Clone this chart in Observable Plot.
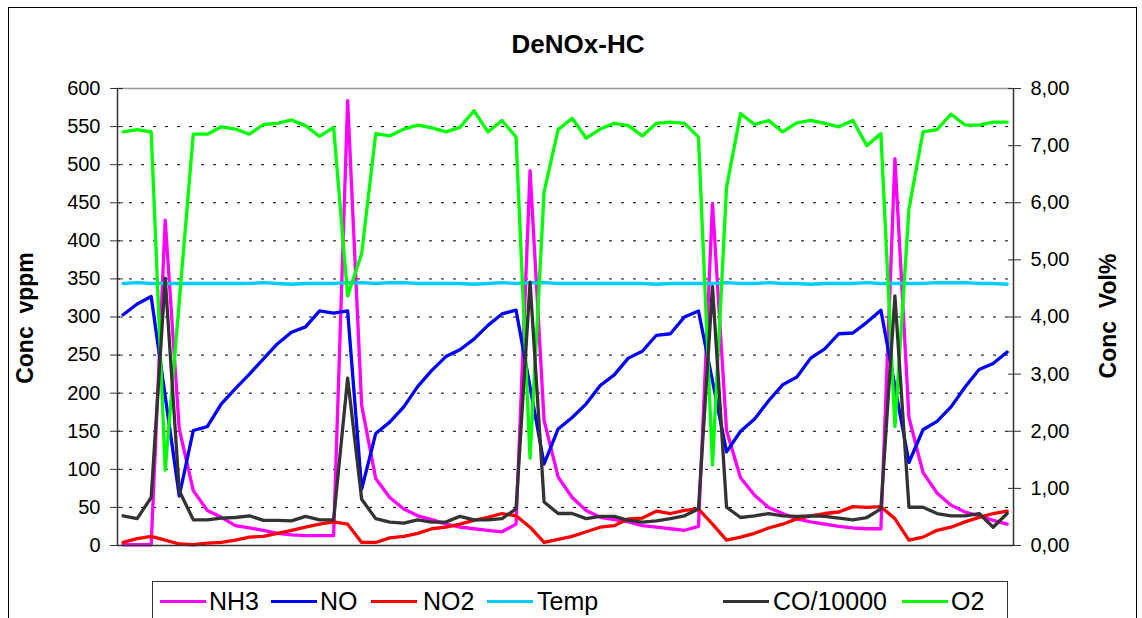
<!DOCTYPE html>
<html><head><meta charset="utf-8">
<script src="https://cdn.jsdelivr.net/npm/d3@7"></script>
<script src="https://cdn.jsdelivr.net/npm/@observablehq/plot@0.6"></script>
<style>
body{margin:0;background:#fff;font-family:"Liberation Sans",Arial,sans-serif;}
#wrap{position:relative;width:1142px;height:618px;overflow:hidden;background:#fff;}
#chart{position:absolute;left:0;top:0;}
.abs{position:absolute;white-space:pre;color:#000;}
#title{left:578px;top:31px;transform:translateX(-50%);font-weight:bold;font-size:26px;line-height:26px;}
.ytitle{font-weight:bold;font-size:23px;line-height:23px;transform:translate(-50%,-50%) rotate(-90deg);}
#border{position:absolute;left:8px;top:7px;width:1129px;height:700px;border:1.5px solid #000;box-sizing:border-box;}
#legend{position:absolute;left:152px;top:581px;width:856px;height:80px;border:1.5px solid #333;box-sizing:border-box;}
.sw{position:absolute;height:3px;top:600px;}
.lt{position:absolute;top:589px;font-size:25px;line-height:25px;white-space:pre;}
</style></head><body><div id="wrap"><div id="chart"></div></div>
<script>
const title = "DeNOx-HC";
const leftTitle = "Conc  vppm";
const rightTitle = "Conc  Vol%";
const seriesNames = ["NH3", "NO", "NO2", "Temp", "CO/10000", "O2"];
const seriesColors = ["#ff00ff", "#0000ff", "#ff0000", "#00ccff", "#333333", "#00ff00"];
const onRightAxis = [false, false, false, false, true, true];
const leftTicks = [0, 50, 100, 150, 200, 250, 300, 350, 400, 450, 500, 550, 600];
const rightTicks = [0, 1, 2, 3, 4, 5, 6, 7, 8];

const NH3 = [1,1,1,427,153,72,46,37,26,23,20,16,14,13,13,13,
  584,184,88,63,48,39,34,28,24,22,20,18,28,492,164,90,
  63,46,37,34,31,26,24,22,20,25,449,151,89,66,50,42,
  35,31,28,25,23,22,22,508,168,96,69,53,44,39,33,28];
const NO = [303,317,327,196,65,151,156,186,206,225,245,265,280,287,308,305,
  308,74,147,162,182,209,230,248,257,271,289,304,309,208,107,153,
  168,186,210,224,246,255,276,278,300,308,216,123,150,166,190,211,
  221,246,258,278,279,293,309,209,109,152,163,182,208,231,239,254];
const NO2 = [4,9,12,7,2,1,3,4,7,11,12,16,20,24,28,31,
  28,4,4,10,12,16,22,24,28,33,37,42,39,24,4,8,
  12,18,24,26,35,36,45,42,46,48,28,7,11,16,23,28,
  35,39,42,44,51,50,51,35,7,11,20,24,31,37,42,45];
const Temp = [344,345,344,344,344,344,344,344,344,344,345,344,343,344,344,344,
  345,345,344,345,345,344,344,344,344,343,344,345,344,345,345,344,
  344,344,344,344,344,344,343,344,344,344,344,345,344,344,345,344,
  344,343,344,344,344,345,344,344,344,344,345,345,345,344,344,343];
const CO = [0.52,0.47,0.84,4.68,0.96,0.45,0.45,0.48,0.49,0.52,0.44,0.44,0.43,0.51,0.45,0.45,
  2.93,0.81,0.47,0.41,0.39,0.45,0.41,0.41,0.51,0.45,0.45,0.47,0.64,4.61,0.76,0.56,
  0.56,0.47,0.51,0.51,0.44,0.41,0.43,0.47,0.52,0.64,4.53,0.67,0.49,0.52,0.56,0.52,
  0.51,0.52,0.51,0.48,0.45,0.49,0.64,4.37,0.67,0.67,0.56,0.52,0.52,0.56,0.32,0.56];
const O2 = [7.24,7.28,7.24,1.32,4.27,7.20,7.20,7.33,7.29,7.20,7.37,7.39,7.45,7.35,7.16,7.32,
  4.37,5.11,7.21,7.17,7.29,7.36,7.31,7.24,7.32,7.61,7.24,7.44,7.15,1.53,6.19,7.28,
  7.48,7.13,7.29,7.39,7.35,7.17,7.39,7.41,7.39,7.15,1.41,6.27,7.56,7.37,7.44,7.24,
  7.40,7.44,7.39,7.33,7.44,7.00,7.21,2.08,5.89,7.24,7.28,7.55,7.36,7.36,7.41,7.41];
const seriesValues = [NH3, NO, NO2, Temp, CO, O2];

const VOL = 600 / 8; // right axis (Vol%) to left axis (vppm) scale factor
const drawOrder = [0, 1, 2, 3, 5, 4];

const lineMarks = drawOrder.map(k => {
  const rows = seriesValues[k].map((v, i) => ({i, v: onRightAxis[k] ? v * VOL : v}));
  return Plot.line(rows, {x: "i", y: "v", stroke: seriesColors[k], strokeWidth: 3.3, strokeLinejoin: "round"});
});

const xDomain = [-0.4, 63.45];
const chart = Plot.plot({
  width: 1142, height: 560,
  marginTop: 88, marginBottom: 15, marginLeft: 117, marginRight: 129,
  style: {fontFamily: "'Liberation Sans', Arial, sans-serif", fontSize: "20px", color: "#000", background: "transparent"},
  x: {domain: xDomain, axis: null},
  y: {domain: [0, 600], label: null},
  marks: [
    Plot.ruleY(leftTicks.filter(t => t > 0 && t < 600), {stroke: "#000", strokeDasharray: "3,9", strokeWidth: 1}),
    Plot.ruleY([600], {stroke: "#999", strokeWidth: 1.5}),
    ...lineMarks,
    Plot.ruleY([0], {stroke: "#333", strokeWidth: 1.5}),
    Plot.ruleX([xDomain[0]], {stroke: "#333", strokeWidth: 1.5}),
    Plot.ruleX([xDomain[1]], {stroke: "#333", strokeWidth: 1.5}),
    Plot.axisY(leftTicks, {anchor: "left", tickSize: 13, dx: 6, tickFormat: () => "", stroke: "#333", label: null}),
    Plot.axisY(leftTicks, {anchor: "left", tickSize: 0, tickPadding: 17, fontSize: 20, fill: "#000", tickFormat: d => String(d), label: null}),
    Plot.axisY(rightTicks.map(t => t * VOL), {anchor: "right", tickSize: 13, dx: -6, tickFormat: () => "", stroke: "#333", label: null}),
    Plot.axisY(rightTicks.map(t => t * VOL), {anchor: "right", tickSize: 0, tickPadding: 17, fontSize: 20, fill: "#000", tickFormat: d => (d / VOL).toFixed(2).replace(".", ","), label: null})
  ]
});
document.getElementById("chart").appendChild(chart);

const wrap = document.getElementById("wrap");
function addDiv(cls, id, text, style) {
  const d = document.createElement("div");
  d.className = cls; if (id) d.id = id;
  if (text != null) d.textContent = text;
  if (style) Object.assign(d.style, style);
  wrap.appendChild(d); return d;
}
addDiv("abs", "title", title);
addDiv("abs ytitle", null, leftTitle, {left: "25px", top: "318px"});
addDiv("abs ytitle", null, rightTitle, {left: "1108px", top: "316px"});
addDiv("", "border", null);
addDiv("", "legend", null);
const swatchX = [160, 271, 371, 487, 723, 902];
const textX = [209, 320, 423, 537, 773, 951];
seriesNames.forEach((name, k) => {
  addDiv("sw", null, null, {left: swatchX[k] + "px", width: "46px", background: seriesColors[k]});
  addDiv("lt", null, name, {left: textX[k] + "px"});
});
</script></body></html>
